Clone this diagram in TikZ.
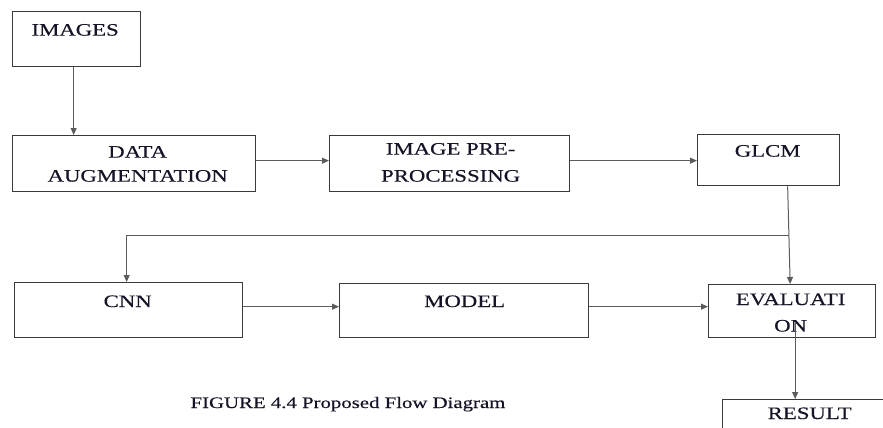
\documentclass[tikz,border=0pt]{standalone}
\usepackage{fontspec}
\setmainfont{Liberation Serif}
\newfontfamily\diagfont[FakeStretch=1.3,FakeBold=0.4]{Liberation Serif}
\usetikzlibrary{arrows.meta,calc}
\definecolor{boxline}{HTML}{3A3A3A}
\definecolor{wire}{HTML}{5C5C5C}
\definecolor{ink}{HTML}{141426}
\tikzset{
  stage/.style={draw=boxline, line width=1.3pt, inner sep=0pt, anchor=north west},
  boxtext/.style={font=\diagfont\fontsize{17.5}{20}\selectfont, text=ink, anchor=base, inner sep=0pt},
  captiontext/.style={font=\diagfont\fontsize{16}{18}\selectfont, text=ink, anchor=base, inner sep=0pt},
  flow/.style={draw=wire, line width=1pt, -{Triangle[length=7pt,width=6pt]}},
}
\begin{document}
\begin{tikzpicture}[x=1pt,y=-1pt]
  \useasboundingbox (0,0) rectangle (883,428);
  \clip (0,0) rectangle (883,428);

  % process boxes
  \node[stage, minimum width=128pt, minimum height=55pt] (images) at (12,11) {};
  \node[stage, minimum width=243pt, minimum height=56pt] (dataaug) at (12,135) {};
  \node[stage, minimum width=240pt, minimum height=56pt] (imgpre) at (329,135) {};
  \node[stage, minimum width=142pt, minimum height=51pt] (glcm) at (697,134) {};
  \node[stage, minimum width=228pt, minimum height=55pt] (cnn) at (14,282) {};
  \node[stage, minimum width=249pt, minimum height=54pt] (model) at (339,283) {};
  \node[stage, minimum width=167pt, minimum height=53pt] (eval) at (708,284) {};
  \node[stage, minimum width=180pt, minimum height=50pt] (result) at (722,399) {};

  % box labels
  \node[boxtext] (timages) at ($(images.north)+(-1.5,24.6)$) {IMAGES};
  \node[boxtext] (tdata1) at ($(dataaug.north)+(3.5,22.6)$) {DATA};
  \node[boxtext] (tdata2) at ($(dataaug.north)+(3.5,46.6)$) {AUGMENTATION};
  \node[boxtext] (timg1) at ($(imgpre.north)+(1,19.6)$) {IMAGE PRE-};
  \node[boxtext] (timg2) at ($(imgpre.north)+(1,46.6)$) {PROCESSING};
  \node[boxtext] (tglcm) at ($(glcm.north)+(-1,22.6)$) {GLCM};
  \node[boxtext] (tcnn) at ($(cnn.north)+(-1,25)$) {CNN};
  \node[boxtext] (tmodel) at ($(model.north)+(0.5,24)$) {MODEL};
  \node[boxtext] (teval1) at ($(eval.north)+(-1.5,21)$) {EVALUATI};
  \node[boxtext] (teval2) at ($(eval.north)+(-1.5,47.5)$) {ON};
  \node[boxtext] (tresult) at ($(result.north)+(-3,20)$) {RESULT};

  % caption
  \node[captiontext] (caption) at (348,408) {FIGURE 4.4 Proposed Flow Diagram};

  % connectors
  \draw[flow] ([xshift=-3pt]images.south) -- ([xshift=-3pt]images.south |- dataaug.north);
  \draw[flow] ([yshift=3pt]dataaug.east) -- ([yshift=3pt]dataaug.east -| imgpre.west);
  \draw[flow] ([yshift=3pt]imgpre.east) -- ([yshift=3pt]imgpre.east -| glcm.west);

  \coordinate (gdrop) at ([xshift=19pt]glcm.south);
  \coordinate (split) at ([yshift=-49pt]gdrop);
  \draw[flow] (gdrop) -- ([xshift=-2pt]eval.north);
  \draw[flow] ([xshift=1pt]split) -| ([xshift=-2pt]cnn.north);

  \draw[flow] ([yshift=3.5pt]cnn.east) -- ([yshift=3.5pt]cnn.east -| model.west);
  \draw[flow] ([yshift=4pt]model.east) -- ([yshift=4pt]model.east -| eval.west);

  \coordinate (evalout) at ([xshift=3pt,yshift=15pt]eval.south);
  \draw[flow] (evalout) -- (evalout |- result.north);
\end{tikzpicture}
\end{document}
